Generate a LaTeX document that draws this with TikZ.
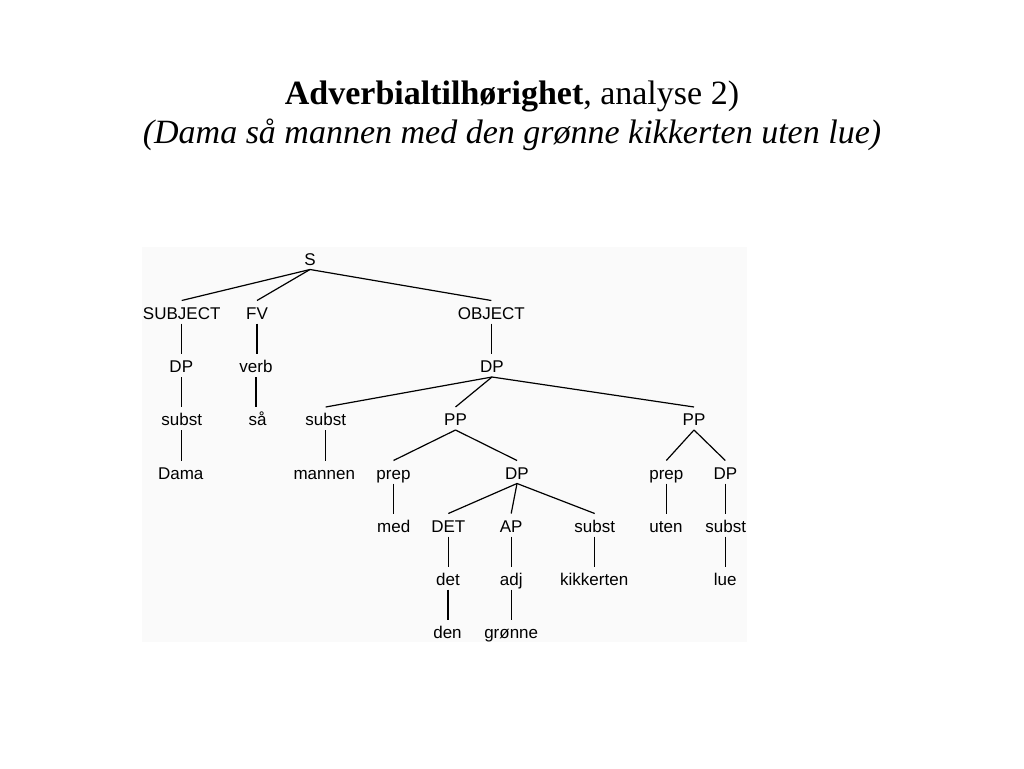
\documentclass[tikz,border=0pt]{standalone}
\usepackage{fontspec}
\setmainfont{Liberation Serif}
\newfontfamily\treefont{Liberation Sans}
\definecolor{boxbg}{RGB}{250,250,250}
\begin{document}
\begin{tikzpicture}[x=1pt,y=-1pt,
  t/.style={anchor=base, inner sep=0pt, outer sep=0pt, text height=18.5pt, text depth=4.5pt, font=\treefont\fontsize{17}{17}\selectfont},
  e/.style={line width=1.2pt, black},
  ttl/.style={anchor=base, inner sep=0pt, font=\fontsize{34}{40}\selectfont}]
\useasboundingbox (0,0) rectangle (1024,768);
\fill[boxbg] (142,247) rectangle (747,642);
\node[ttl] (title1) at (512,104) {\textbf{Adverbialtilhørighet}, analyse 2)};
\node[ttl] (title2) at (512,143) {\textit{(Dama så mannen med den grønne kikkerten uten lue)}};
% row 0
\node[t] (S) at (310,265) {S};
% row 1
\node[t] (SUBJ) at (181.7,319) {SUBJECT};
\node[t] (FV) at (257,319) {FV};
\node[t] (OBJ) at (491.3,319) {OBJECT};
% row 2
\node[t] (DP1) at (181.3,372.5) {DP};
\node[t] (verb) at (256,372.5) {verb};
\node[t] (DP2) at (492,372.5) {DP};
% row 3
\node[t] (subst1) at (181.7,425.5) {subst};
\node[t] (saa) at (257.7,425.5) {så};
\node[t] (subst2) at (325.7,425.5) {subst};
\node[t] (PP1) at (455.5,425.5) {PP};
\node[t] (PP2) at (694,425.5) {PP};
% row 4
\node[t] (Dama) at (180.7,479) {Dama};
\node[t] (mannen) at (324.3,479) {mannen};
\node[t] (prep1) at (393.5,479) {prep};
\node[t] (DP3) at (517,479) {DP};
\node[t] (prep2) at (666.3,479) {prep};
\node[t] (DP4) at (725.3,479) {DP};
% row 5
\node[t] (med) at (393.7,532) {med};
\node[t] (DET) at (448.3,532) {DET};
\node[t] (AP) at (511.2,532) {AP};
\node[t] (subst3) at (594.7,532) {subst};
\node[t] (uten) at (666,532) {uten};
\node[t] (subst4) at (725.8,532) {subst};
% row 6
\node[t] (det) at (448,585) {det};
\node[t] (adj) at (511.3,585) {adj};
\node[t] (kikkerten) at (594.2,585) {kikkerten};
\node[t] (lue) at (725.3,585) {lue};
% row 7
\node[t] (den) at (447.5,638) {den};
\node[t] (gronne) at (511.2,638) {grønne};
% diagonal edges
\draw[e] (S.south) -- (SUBJ.north);
\draw[e] (S.south) -- (FV.north);
\draw[e] (S.south) -- (OBJ.north);
\draw[e] (DP2.south) -- (subst2.north);
\draw[e] (DP2.south) -- (PP1.north);
\draw[e] (DP2.south) -- (PP2.north);
\draw[e] (PP1.south) -- (prep1.north);
\draw[e] (PP1.south) -- (DP3.north);
\draw[e] (PP2.south) -- (prep2.north);
\draw[e] (PP2.south) -- (DP4.north);
\draw[e] (DP3.south) -- (DET.north);
\draw[e] (DP3.south) -- (AP.north);
\draw[e] (DP3.south) -- (subst3.north);
% vertical edges
\draw[e] (SUBJ.south) -- (SUBJ.south |- DP1.north);
\draw[e] (FV.south) -- (FV.south |- verb.north);
\draw[e] (OBJ.south) -- (OBJ.south |- DP2.north);
\draw[e] (DP1.south) -- (DP1.south |- subst1.north);
\draw[e] (verb.south) -- (verb.south |- saa.north);
\draw[e] (subst1.south) -- (subst1.south |- Dama.north);
\draw[e] (subst2.south) -- (subst2.south |- mannen.north);
\draw[e] (prep1.south) -- (prep1.south |- med.north);
\draw[e] (prep2.south) -- (prep2.south |- uten.north);
\draw[e] (DP4.south) -- (DP4.south |- subst4.north);
\draw[e] (DET.south) -- (DET.south |- det.north);
\draw[e] (AP.south) -- (AP.south |- adj.north);
\draw[e] (subst3.south) -- (subst3.south |- kikkerten.north);
\draw[e] (subst4.south) -- (subst4.south |- lue.north);
\draw[e] (det.south) -- (det.south |- den.north);
\draw[e] (adj.south) -- (adj.south |- gronne.north);
\end{tikzpicture}
\end{document}
